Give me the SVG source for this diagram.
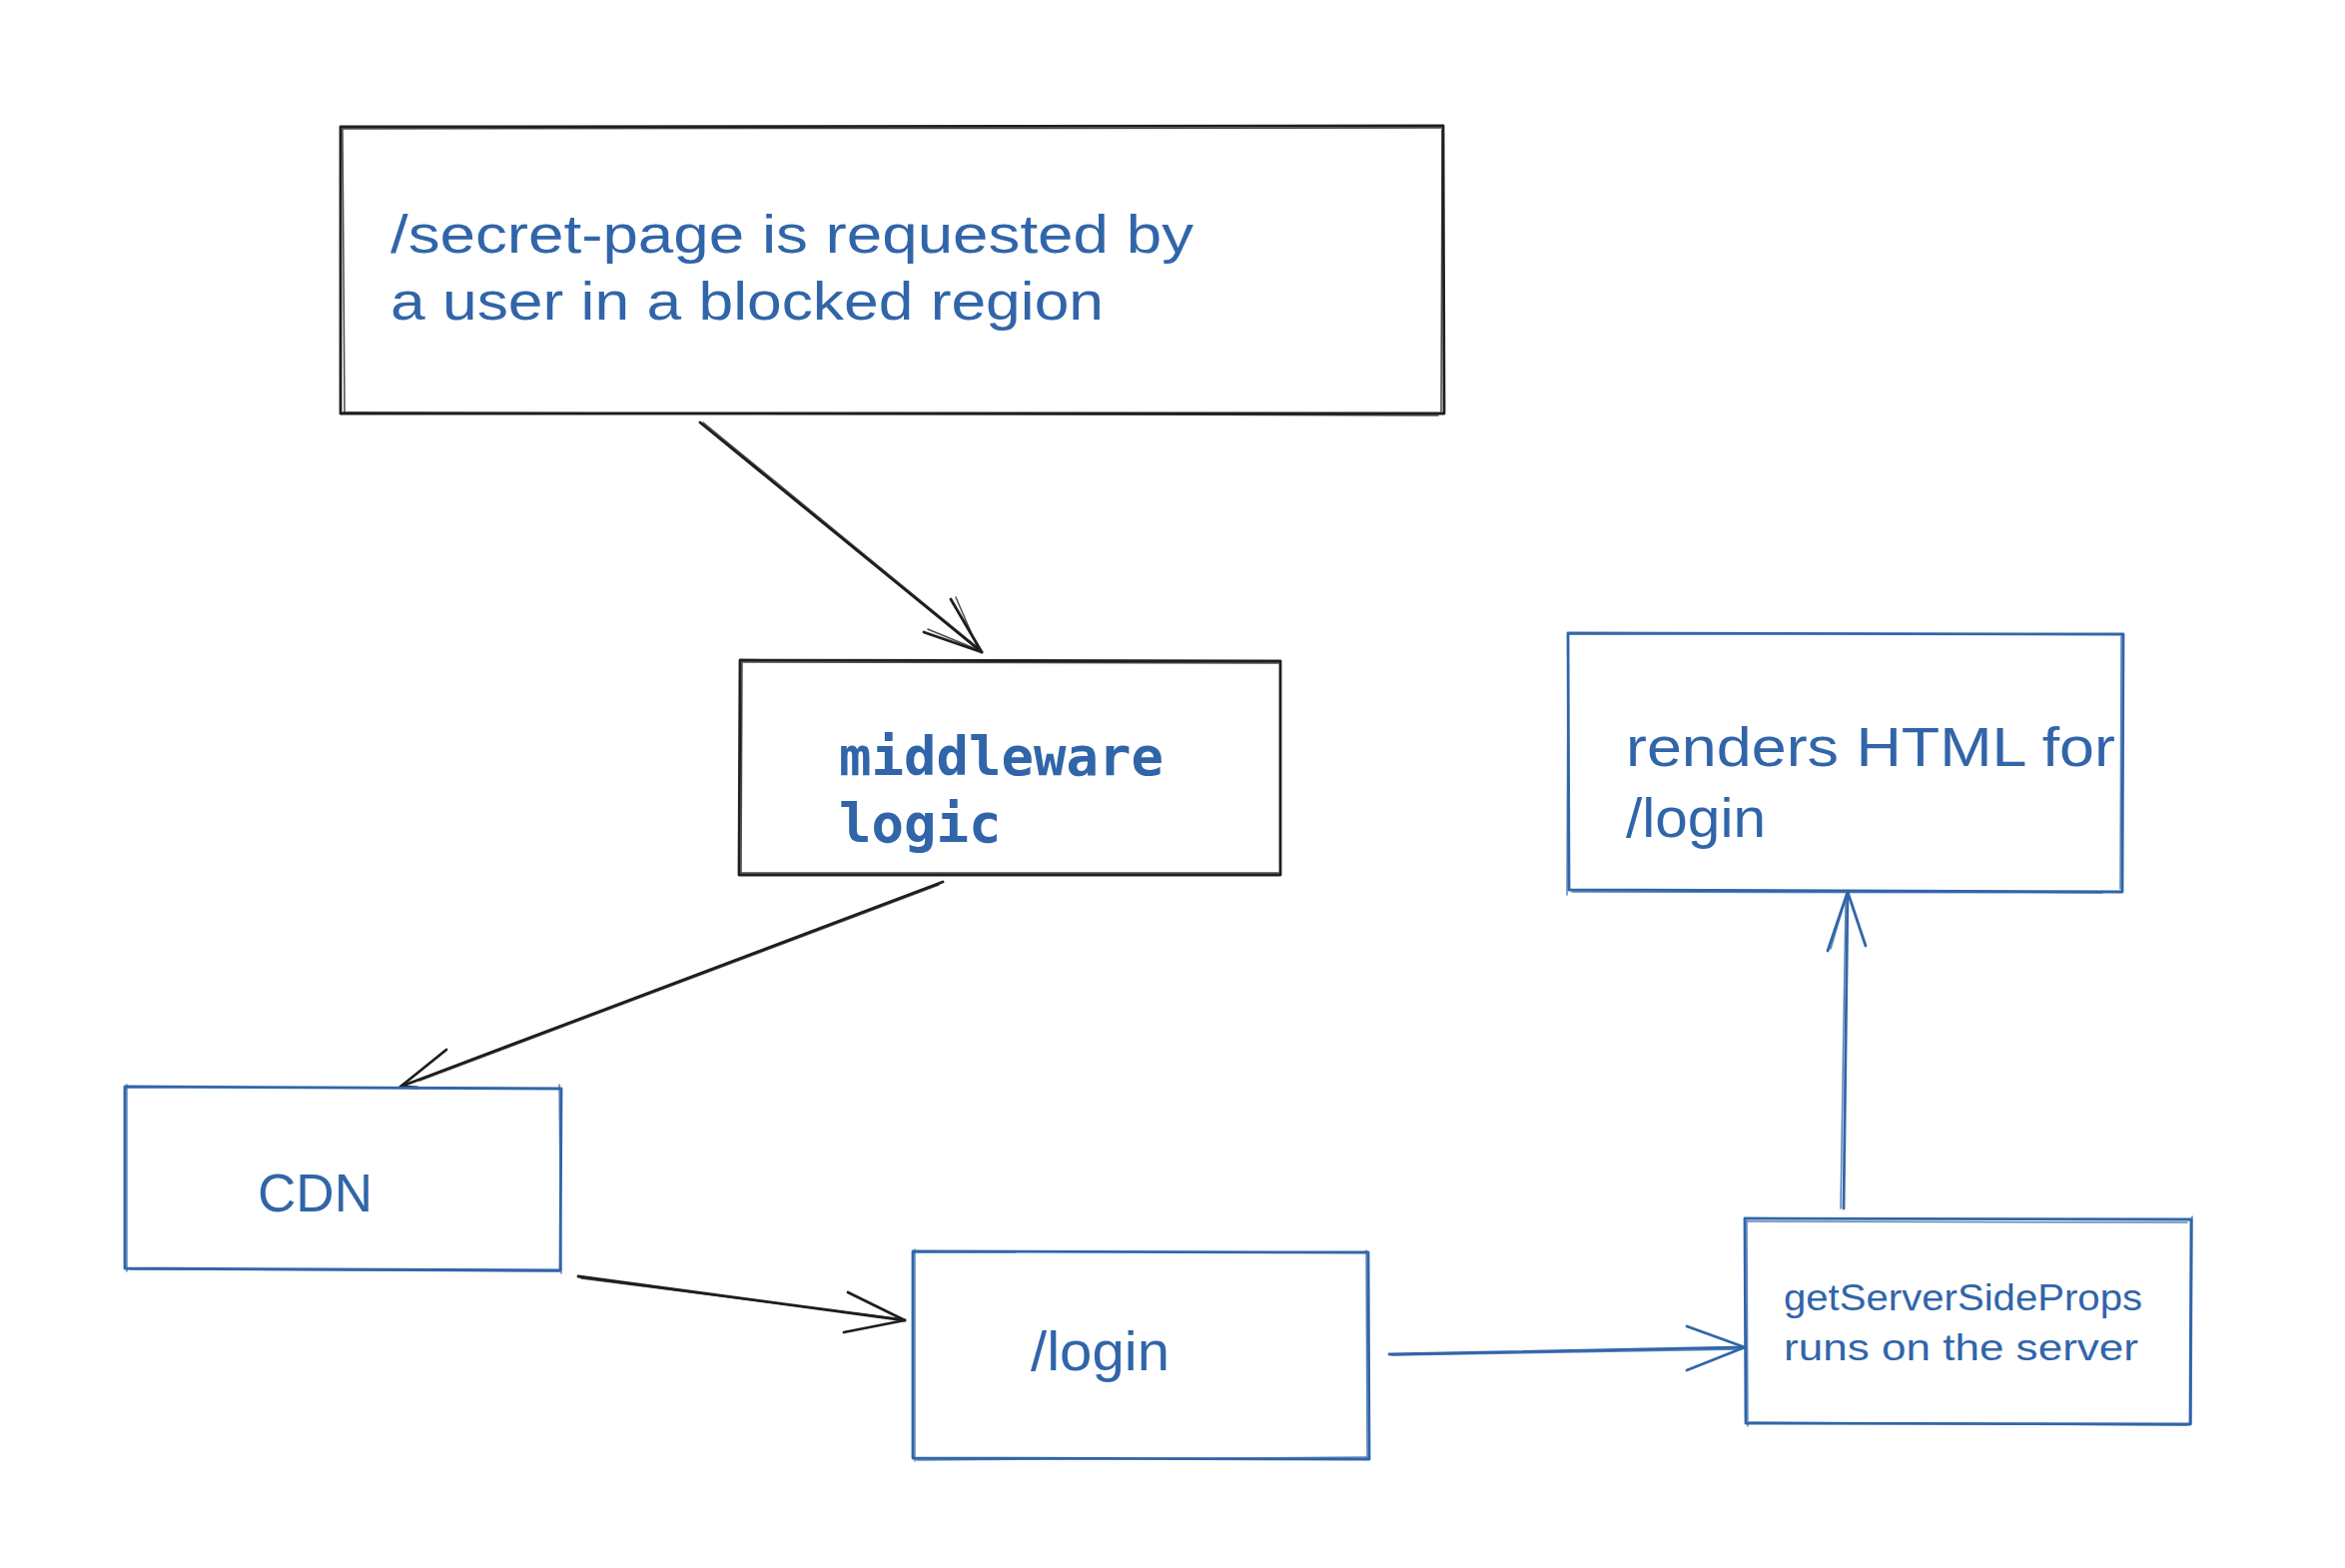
<svg xmlns="http://www.w3.org/2000/svg" width="2348" height="1570" viewBox="0 0 2348 1570">
<defs>
<style>
.bk{fill:none;stroke:#1e1e1e;stroke-width:2.8;stroke-linecap:round;stroke-linejoin:round}
.bk2{fill:none;stroke:#1e1e1e;stroke-width:1.5;stroke-linecap:round;opacity:0.8}
.bl{fill:none;stroke:#3165a9;stroke-width:2.8;stroke-linecap:round;stroke-linejoin:round}
.bl2{fill:none;stroke:#3165a9;stroke-width:1.5;stroke-linecap:round;opacity:0.8}
.hand{font-family:"Liberation Sans","Noto Sans",sans-serif;fill:#3165a9}
.mono{font-family:"DejaVu Sans Mono","Liberation Mono",monospace;font-weight:bold;fill:#3165a9}
</style>
</defs>
<rect width="2348" height="1570" fill="#ffffff"/>
<g id="connectors">
  <g id="e-secret-middleware">
    <path class="bk" d="M701 423 L983 653"/>
    <path class="bk2" d="M704 423 L981 650"/>
    <path class="bk" d="M925 633 L983 653 L952 600"/>
    <path class="bk2" d="M929 630 L980 651 L957 598"/>
  </g>
  <g id="e-middleware-cdn">
    <path class="bk" d="M944 883 L401 1088"/>
    <path class="bk2" d="M940 886 L420 1082"/>
    <path class="bk" d="M447 1051 L401 1088 L418 1089"/>
  </g>
  <g id="e-cdn-login">
    <path class="bk" d="M579 1278 L906 1322"/>
    <path class="bk2" d="M582 1280 L903 1321"/>
    <path class="bk" d="M849 1294 L906 1322 L845 1334"/>
  </g>
  <g id="e-login-gssp">
    <path class="bl" d="M1391 1356 L1747 1349"/>
    <path class="bl2" d="M1394 1357 L1744 1351"/>
    <path class="bl" d="M1689 1328 L1747 1349 L1689 1372"/>
  </g>
  <g id="e-gssp-renders">
    <path class="bl" d="M1846 1210 L1850 893"/>
    <path class="bl2" d="M1843 1210 L1848 900"/>
    <path class="bl" d="M1830 952 L1850 893 L1868 947"/>
    <path class="bl2" d="M1833 950 L1849 896"/>
  </g>
</g>
<g id="n-secret">
  <path class="bk" d="M341 127 L1445 126 L1446 414 L341 414 Z"/>
  <path class="bk2" d="M343 129 L1443 128 M1444 130 L1443 412 M344 413 L1440 416 M343 130 L345 412"/>
  <text class="hand" font-size="54" x="391" y="253" textLength="804" lengthAdjust="spacingAndGlyphs">/secret-page is requested by</text>
  <text class="hand" font-size="54" x="391" y="320" textLength="714" lengthAdjust="spacingAndGlyphs">a user in a blocked region</text>
</g>
<g id="n-middleware">
  <path class="bk" d="M741 661 L1282 662 L1282 876 L740 876 Z"/>
  <path class="bk2" d="M743 663 L1280 664 M743 664 L742 874 M742 874 L1280 874"/>
  <text class="mono" font-size="54" x="840" y="776">middleware</text>
  <text class="mono" font-size="54" x="840" y="843">logic</text>
</g>
<g id="n-renders">
  <path class="bl" d="M1570 634 L2126 635 L2125 893 L1571 891 Z"/>
  <path class="bl2" d="M1570 636 L1569 896 M1574 893 L2105 894 M2124 637 L2123 890"/>
  <text class="hand" font-size="56" x="1628" y="767" textLength="490" lengthAdjust="spacingAndGlyphs">renders HTML for</text>
  <text class="hand" font-size="56" x="1628" y="838" textLength="140" lengthAdjust="spacingAndGlyphs">/login</text>
</g>
<g id="n-cdn">
  <path class="bl" d="M125 1088 L562 1090 L561 1272 L125 1270 Z"/>
  <path class="bl2" d="M127 1086 L127 1273 M560 1086 L562 1275 M130 1271 L560 1273"/>
  <text class="hand" font-size="54" x="258" y="1213" textLength="115" lengthAdjust="spacingAndGlyphs">CDN</text>
</g>
<g id="n-login">
  <path class="bl" d="M914 1253 L1370 1254 L1371 1461 L914 1460 Z"/>
  <path class="bl2" d="M916 1251 L916 1463 M1368 1252 L1369 1460 M918 1462 L1368 1459"/>
  <text class="hand" font-size="56" x="1032" y="1372" textLength="139" lengthAdjust="spacingAndGlyphs">/login</text>
</g>
<g id="n-gssp">
  <path class="bl" d="M1747 1220 L2194 1221 L2193 1426 L1748 1425 Z"/>
  <path class="bl2" d="M1750 1223 L2190 1224 M1749 1222 L1750 1428 M2195 1218 L2194 1426 M1752 1424 L2190 1427"/>
  <text class="hand" font-size="36" x="1786" y="1312" textLength="359" lengthAdjust="spacingAndGlyphs">getServerSideProps</text>
  <text class="hand" font-size="36" x="1786" y="1362" textLength="355" lengthAdjust="spacingAndGlyphs">runs on the server</text>
</g>
</svg>
